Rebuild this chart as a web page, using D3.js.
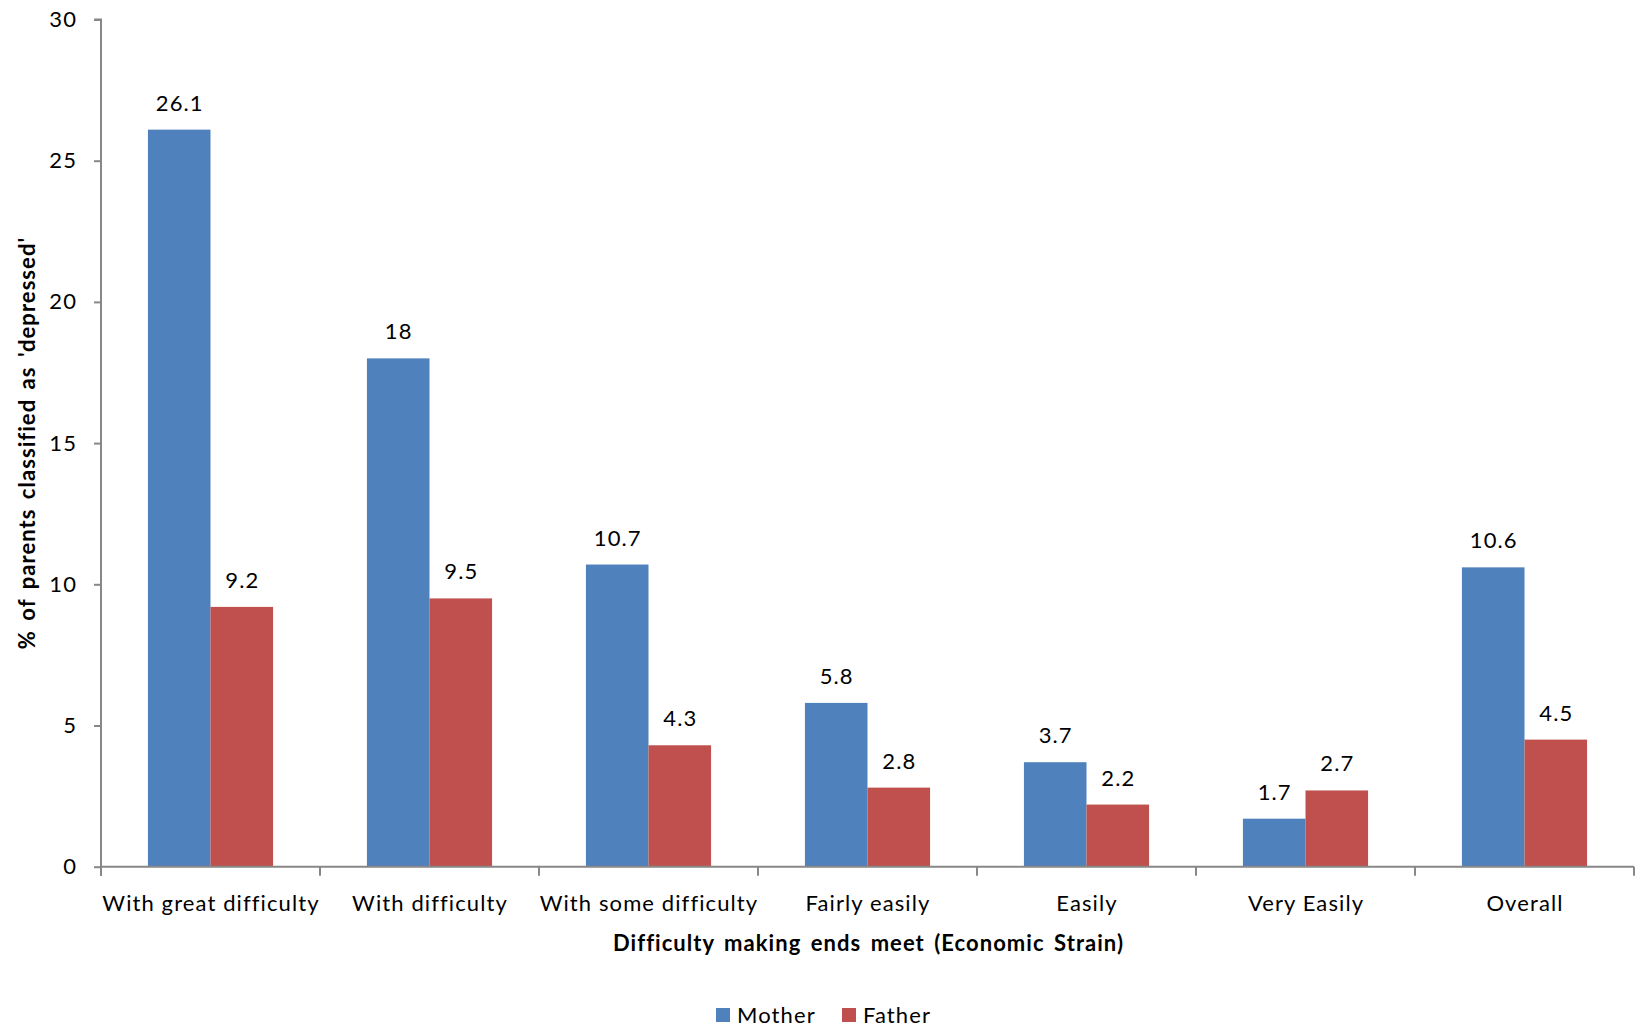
<!DOCTYPE html>
<html>
<head>
<meta charset="utf-8">
<script src="https://d3js.org/d3.v7.min.js"></script>
<style>
  html, body { margin: 0; padding: 0; background: #ffffff; }
  svg { display: block; }
  text { font-family: Lato, "Open Sans", sans-serif; fill: #000; letter-spacing: 1.1px; }
</style>
</head>
<body>
<svg id="chart" width="1635" height="1027"></svg>
<script>
const categories = ["With great difficulty", "With difficulty", "With some difficulty", "Fairly easily", "Easily", "Very Easily", "Overall"];
const seriesNames = ["Mother", "Father"];
const motherValues = [26.1, 18, 10.7, 5.8, 3.7, 1.7, 10.6];
const fatherValues = [9.2, 9.5, 4.3, 2.8, 2.2, 2.7, 4.5];
const yTicks = [0, 5, 10, 15, 20, 25, 30];
const xTitle = "Difficulty making ends meet (Economic Strain)";
const yTitle = "% of parents classified as 'depressed'";

(function () {
const colors = { Mother: "#4F81BD", Father: "#C0504D" };
const axisColor = "#878787";

const svg = d3.select("#chart");
const pLeft = 101, pRight = 1634, pTop = 19.5, pBottom = 866.7;

const x0 = d3.scaleBand().domain(categories).range([pLeft, pRight]).padding(0);
const bw = x0.bandwidth();
const groupW = bw * 2 / 3.5;
const x1 = d3.scaleBand().domain(seriesNames).range([(bw - groupW) / 2, (bw + groupW) / 2]).padding(0);
const y = d3.scaleLinear().domain([0, 30]).range([pBottom, pTop]);

const rows = categories.map((c, i) => ({ cat: c, Mother: motherValues[i], Father: fatherValues[i] }));

// bars
const g = svg.append("g");
const groups = g.selectAll("g.grp").data(rows).enter().append("g")
  .attr("transform", d => `translate(${x0(d.cat)},0)`);
groups.selectAll("rect").data(d => seriesNames.map(s => ({ s, v: d[s] }))).enter().append("rect")
  .attr("x", d => x1(d.s))
  .attr("width", x1.bandwidth())
  .attr("y", d => y(d.v))
  .attr("height", d => y(0) - y(d.v))
  .attr("fill", d => colors[d.s]);
groups.selectAll("text.lbl").data(d => seriesNames.map(s => ({ s, v: d[s] }))).enter().append("text")
  .attr("class", "lbl")
  .attr("x", d => x1(d.s) + x1.bandwidth() / 2 + 0.5)
  .attr("y", d => y(d.v) - 19)
  .attr("text-anchor", "middle")
  .style("font-size", "22px")
  .text(d => String(d.v));

// y axis
const yAxis = d3.axisLeft(y).tickValues(yTicks).tickSize(7).tickPadding(17).tickFormat(d3.format("d"));
const ya = svg.append("g").attr("transform", `translate(${pLeft},0)`).call(yAxis);
ya.select(".domain").attr("stroke", axisColor).attr("stroke-width", 2).attr("d", `M-7,${pTop}H0V${pBottom + 9}`);
ya.selectAll(".tick line").attr("stroke", axisColor).attr("stroke-width", 2);
ya.selectAll(".tick text").style("font-size", "22px").style("font-family", "Lato, sans-serif").style("letter-spacing", "1.1px").attr("fill", "#000");

// x axis
const boundaries = categories.map(c => x0(c)).concat([pRight]);
svg.append("line").attr("x1", pLeft).attr("x2", pRight).attr("y1", pBottom).attr("y2", pBottom)
  .attr("stroke", axisColor).attr("stroke-width", 2);
svg.selectAll("line.xt").data(boundaries).enter().append("line").attr("class", "xt")
  .attr("x1", d => d).attr("x2", d => d).attr("y1", pBottom).attr("y2", pBottom + 9)
  .attr("stroke", axisColor).attr("stroke-width", 2);
svg.selectAll("text.xl").data(categories).enter().append("text").attr("class", "xl")
  .attr("x", d => x0(d) + bw / 2 + 0.5)
  .attr("y", 911)
  .attr("text-anchor", "middle")
  .style("font-size", "22px")
  .text(d => d);

// titles
svg.append("text").attr("x", (pLeft + pRight) / 2 + 1).attr("y", 951).attr("text-anchor", "middle")
  .style("font-size", "22px").style("font-weight", "bold").style("letter-spacing", "1.05px").style("word-spacing", "3px").text(xTitle);
svg.append("text").attr("transform", `translate(35,443) rotate(-90)`).attr("text-anchor", "middle")
  .style("font-size", "22px").style("font-weight", "bold").style("letter-spacing", "1.05px").style("word-spacing", "3px").text(yTitle);

// legend
const legendX = [716, 842];
const lg = svg.selectAll("g.leg").data(seriesNames).enter().append("g").attr("class", "leg")
  .attr("transform", (d, i) => `translate(${legendX[i]},1008)`);
lg.append("rect").attr("width", 14).attr("height", 14).attr("fill", d => colors[d]);
lg.append("text").attr("x", 21).attr("y", 15).style("font-size", "22px").text(d => d);
})();
</script>
</body>
</html>
